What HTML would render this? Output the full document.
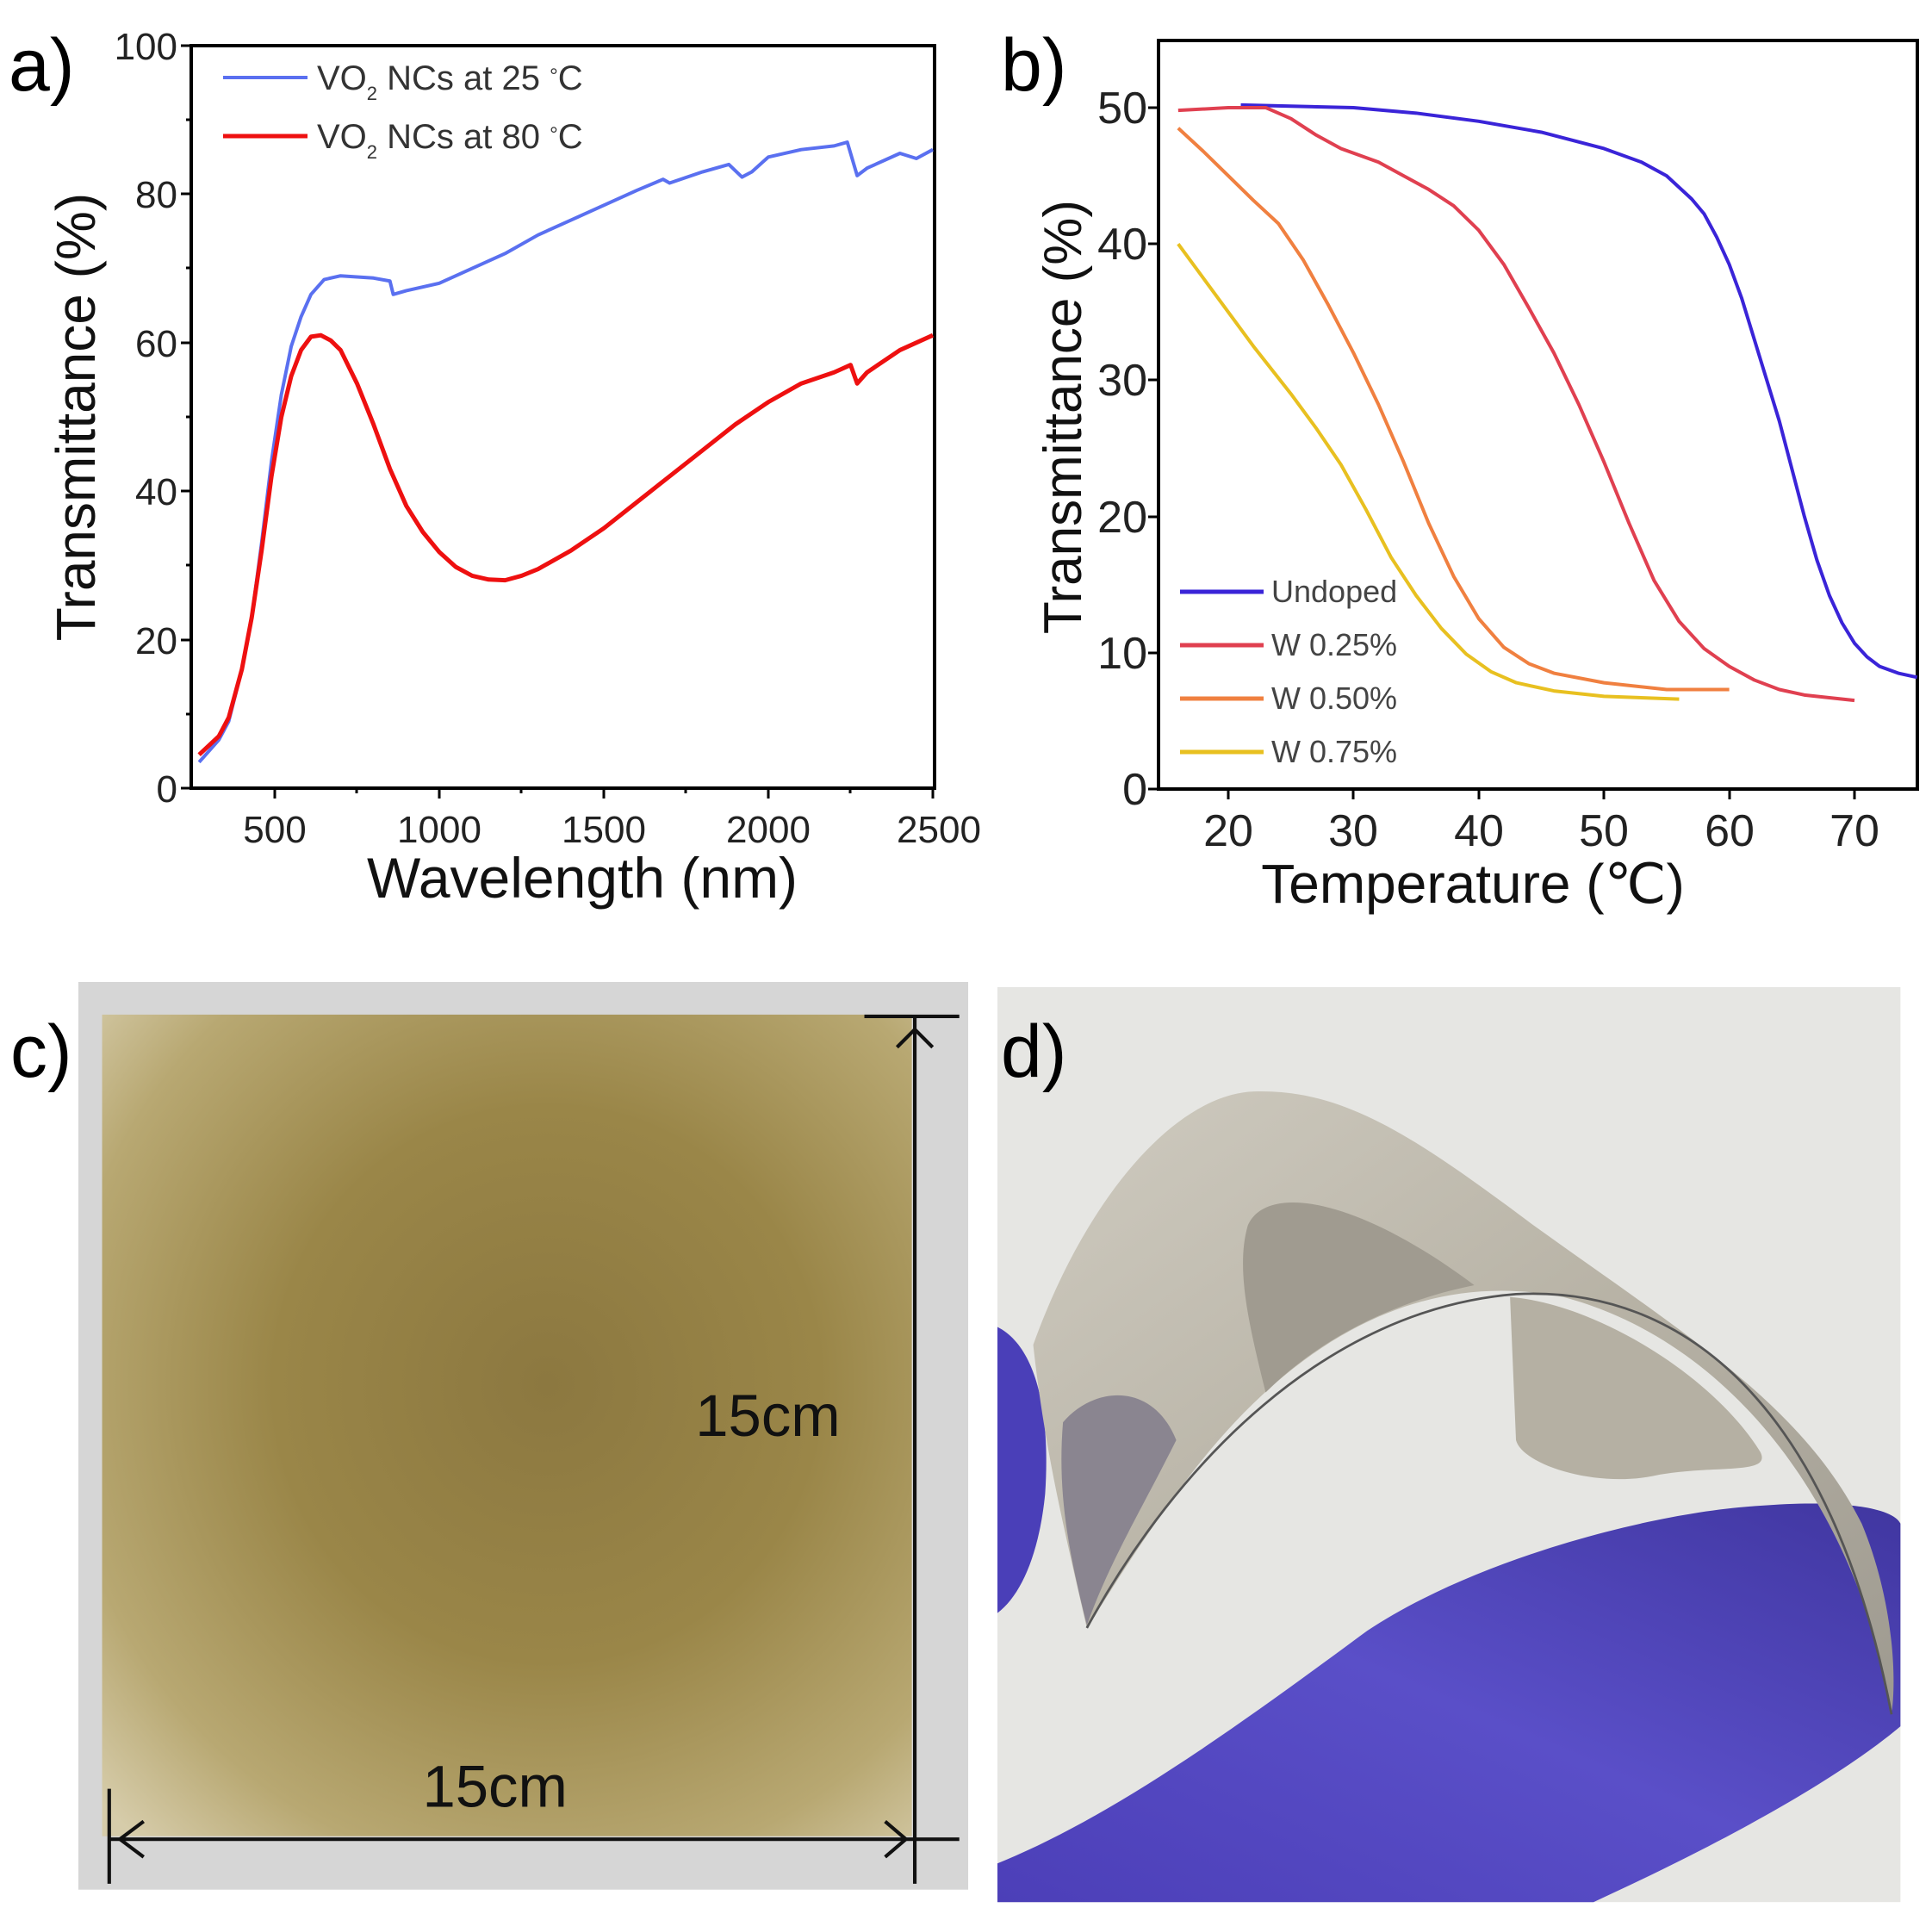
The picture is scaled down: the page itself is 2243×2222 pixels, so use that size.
<!DOCTYPE html>
<html><head><meta charset="utf-8"><style>
html,body{margin:0;padding:0;background:#fff;}
svg{display:block;font-family:"Liberation Sans",sans-serif;}
</style></head><body>
<svg width="2243" height="2222" viewBox="0 0 2243 2222" xmlns="http://www.w3.org/2000/svg">
<defs>
<radialGradient id="gold" cx="0.55" cy="0.45" r="0.75">
<stop offset="0" stop-color="#8c7840"/><stop offset="0.45" stop-color="#9a8648"/><stop offset="0.8" stop-color="#b8a872"/><stop offset="1" stop-color="#d6ccaa"/>
</radialGradient>
<linearGradient id="glove" x1="0" y1="1" x2="1" y2="0">
<stop offset="0" stop-color="#4c3fb8"/><stop offset="0.5" stop-color="#5a4fc8"/><stop offset="1" stop-color="#4036a0"/>
</linearGradient>
<linearGradient id="film" x1="0" y1="0" x2="1" y2="1">
<stop offset="0" stop-color="#cfcbc0"/><stop offset="0.5" stop-color="#b8b3a6"/><stop offset="1" stop-color="#9e9a90"/>
</linearGradient>
</defs>

<!-- Panel a -->
<text x="10" y="105" font-size="86">a)</text>
<rect x="222" y="53" width="863" height="862" stroke="#000" stroke-width="4" fill="none"/>
<g stroke="#000" stroke-width="3">
<line x1="319" y1="915" x2="319" y2="927"/><line x1="510" y1="915" x2="510" y2="927"/><line x1="701" y1="915" x2="701" y2="927"/><line x1="892" y1="915" x2="892" y2="927"/><line x1="1083" y1="915" x2="1083" y2="927"/>
<line x1="414" y1="915" x2="414" y2="921"/><line x1="605" y1="915" x2="605" y2="921"/><line x1="796" y1="915" x2="796" y2="921"/><line x1="987" y1="915" x2="987" y2="921"/>
<line x1="210" y1="915" x2="222" y2="915"/><line x1="210" y1="743" x2="222" y2="743"/><line x1="210" y1="570" x2="222" y2="570"/><line x1="210" y1="398" x2="222" y2="398"/><line x1="210" y1="225" x2="222" y2="225"/><line x1="210" y1="53" x2="222" y2="53"/>
<line x1="216" y1="829" x2="222" y2="829"/><line x1="216" y1="656" x2="222" y2="656"/><line x1="216" y1="484" x2="222" y2="484"/><line x1="216" y1="311" x2="222" y2="311"/><line x1="216" y1="139" x2="222" y2="139"/>
</g>
<g font-size="44" fill="#222" text-anchor="end">
<text x="206" y="931">0</text><text x="206" y="759">20</text><text x="206" y="586">40</text><text x="206" y="414">60</text><text x="206" y="241">80</text><text x="206" y="69">100</text>
</g>
<g font-size="44" fill="#222" text-anchor="middle">
<text x="319" y="978">500</text><text x="510" y="978">1000</text><text x="701" y="978">1500</text><text x="892" y="978">2000</text><text x="1090" y="978">2500</text>
</g>
<text x="676" y="1042" font-size="66" text-anchor="middle" fill="#111">Wavelength (nm)</text>
<text transform="translate(110,484) rotate(-90)" font-size="64" text-anchor="middle" fill="#111">Transmittance (%)</text>
<line x1="259" y1="90" x2="357" y2="90" stroke="#5a70f0" stroke-width="4"/>
<line x1="259" y1="158" x2="357" y2="158" stroke="#ee1010" stroke-width="5"/>
<g font-size="40" fill="#333">
<text x="368" y="104">VO<tspan font-size="22" dy="12">2</tspan><tspan dy="-12"> NCs at 25 </tspan><tspan font-size="24" dy="-8">°</tspan><tspan dy="8">C</tspan></text>
<text x="368" y="172">VO<tspan font-size="22" dy="12">2</tspan><tspan dy="-12"> NCs at 80 </tspan><tspan font-size="24" dy="-8">°</tspan><tspan dy="8">C</tspan></text>
</g>
<g transform="translate(319,915) scale(0.382,-8.62) translate(-500,0)" fill="none" stroke-linejoin="round">
<polyline vector-effect="non-scaling-stroke" stroke="#5a70f0" stroke-width="4" points="270,3.5 300,5 330,6.5 360,9 400,16 430,23 460,33 490,44 520,53 550,59.5 580,63.5 610,66.5 650,68.5 700,69 800,68.7 850,68.3 860,66.5 900,67 1000,68 1100,70 1200,72 1300,74.5 1400,76.5 1500,78.5 1600,80.5 1680,82 1700,81.5 1800,83 1880,84 1920,82.3 1950,83 2000,85 2100,86 2200,86.5 2240,87 2270,82.5 2300,83.5 2400,85.5 2450,84.8 2500,86"/>
<polyline vector-effect="non-scaling-stroke" stroke="#ee1010" stroke-width="5" points="270,4.5 330,7 360,9.5 400,16 430,23 460,32 490,42 520,50 550,55.5 580,59 610,60.8 640,61 670,60.3 700,59 750,54.5 800,49 850,43 900,38 950,34.5 1000,31.8 1050,29.8 1100,28.6 1150,28.1 1200,28 1250,28.6 1300,29.5 1400,32 1500,35 1600,38.5 1700,42 1800,45.5 1900,49 2000,52 2100,54.5 2200,56 2250,57 2270,54.5 2300,56 2400,59 2500,61"/>
</g>

<!-- Panel b -->
<text x="1162" y="105" font-size="86">b)</text>
<rect x="1345" y="47" width="881" height="869" stroke="#000" stroke-width="4" fill="none"/>
<g stroke="#000" stroke-width="3">
<line x1="1426" y1="916" x2="1426" y2="928"/><line x1="1571" y1="916" x2="1571" y2="928"/><line x1="1717" y1="916" x2="1717" y2="928"/><line x1="1862" y1="916" x2="1862" y2="928"/><line x1="2008" y1="916" x2="2008" y2="928"/><line x1="2153" y1="916" x2="2153" y2="928"/>
<line x1="1333" y1="916" x2="1345" y2="916"/><line x1="1333" y1="758" x2="1345" y2="758"/><line x1="1333" y1="600" x2="1345" y2="600"/><line x1="1333" y1="441" x2="1345" y2="441"/><line x1="1333" y1="283" x2="1345" y2="283"/><line x1="1333" y1="125" x2="1345" y2="125"/>
</g>
<g font-size="52" fill="#222" text-anchor="end">
<text x="1332" y="934">0</text><text x="1332" y="776">10</text><text x="1332" y="618">20</text><text x="1332" y="459">30</text><text x="1332" y="301">40</text><text x="1332" y="143">50</text>
</g>
<g font-size="52" fill="#222" text-anchor="middle">
<text x="1426" y="982">20</text><text x="1571" y="982">30</text><text x="1717" y="982">40</text><text x="1862" y="982">50</text><text x="2008" y="982">60</text><text x="2153" y="982">70</text>
</g>
<text x="1710" y="1048" font-size="64" text-anchor="middle" fill="#111">Temperature (℃)</text>
<text transform="translate(1255,484) rotate(-90)" font-size="62" text-anchor="middle" fill="#111">Transmittance (%)</text>
<g transform="translate(1426,916) scale(14.54,-15.82) translate(-20,0)" fill="none" stroke-linejoin="round">
<polyline vector-effect="non-scaling-stroke" stroke="#3a24d8" stroke-width="4" points="21,50.2 30,50 35,49.6 40,49 45,48.2 50,47 53,46 55,45 57,43.3 58,42.2 59,40.5 60,38.5 61,36 62,33 63,30 64,27 65,23.5 66,20 67,16.8 68,14.2 69,12.2 70,10.7 71,9.7 72,9 73.5,8.5 75,8.2"/>
<polyline vector-effect="non-scaling-stroke" stroke="#e04050" stroke-width="4" points="16,49.8 20,50 23,50 25,49.2 27,48 29,47 32,46 34,45 36,44 38,42.8 40,41 42,38.5 44,35.3 46,32 48,28.2 50,24 52,19.5 54,15.3 56,12.3 58,10.3 60,9 62,8 64,7.3 66,6.9 70,6.5"/>
<polyline vector-effect="non-scaling-stroke" stroke="#f08040" stroke-width="4" points="16,48.5 18,46.8 20,45 22,43.2 24,41.5 26,38.8 28,35.5 30,32 32,28.2 34,24 36,19.5 38,15.6 40,12.5 42,10.4 44,9.2 46,8.5 50,7.8 55,7.3 60,7.3"/>
<polyline vector-effect="non-scaling-stroke" stroke="#e8c020" stroke-width="4" points="16,40 18,37.5 20,35 22,32.5 25,29 27,26.5 29,23.8 31,20.5 33,17 35,14.2 37,11.8 39,9.9 41,8.6 43,7.8 46,7.2 50,6.8 56,6.6"/>
</g>
<g stroke-width="5">
<line x1="1370" y1="687" x2="1467" y2="687" stroke="#3a24d8"/>
<line x1="1370" y1="749" x2="1467" y2="749" stroke="#e04050"/>
<line x1="1370" y1="811" x2="1467" y2="811" stroke="#f08040"/>
<line x1="1370" y1="873" x2="1467" y2="873" stroke="#e8c020"/>
</g>
<g font-size="36" fill="#444">
<text x="1476" y="699">Undoped</text><text x="1476" y="761">W 0.25%</text><text x="1476" y="823">W 0.50%</text><text x="1476" y="885">W 0.75%</text>
</g>

<!-- Panel c -->
<g transform="translate(60,1140) scale(0.6887)">
<rect x="45" y="0" width="1500" height="1530" fill="#d6d6d6"/>
<rect x="85" y="55" width="1365" height="1385" fill="url(#gold)"/>
<g stroke="#111" stroke-width="6" fill="none">
<line x1="1455" y1="58" x2="1455" y2="1520"/>
<line x1="1370" y1="58" x2="1530" y2="58"/>
<polyline points="1425,110 1455,80 1485,110"/>
<line x1="97" y1="1445" x2="1530" y2="1445"/>
<line x1="97" y1="1360" x2="97" y2="1520"/>
<polyline points="155,1415 115,1445 155,1475"/>
<polyline points="1405,1415 1440,1445 1405,1475"/>
</g>
<text x="1085" y="765" font-size="100" fill="#111">15cm</text>
<text x="625" y="1390" font-size="100" fill="#111">15cm</text>
</g>
<text x="12" y="1250" font-size="86">c)</text>

<!-- Panel d -->
<g transform="translate(1158,1146) scale(0.692)">
<rect x="0" y="0" width="1515" height="1535" fill="#e6e6e3"/>
<path d="M0,1535 L0,1470 C200,1390 430,1220 620,1080 C800,960 1100,880 1280,870 C1400,860 1500,870 1515,900 L1515,1240 C1420,1320 1250,1420 1000,1535 Z" fill="url(#glove)"/>
<path d="M0,570 C60,600 90,700 80,850 C70,950 40,1020 0,1050 Z" fill="#4a3fb8"/>
<path d="M60,600 C150,350 300,180 430,175 C580,170 700,250 900,400 C1150,580 1350,700 1450,900 C1500,1020 1510,1150 1500,1220 C1450,900 1250,600 950,520 C700,470 480,600 300,850 C220,960 180,1030 150,1075 C110,900 80,780 60,600 Z" fill="url(#film)"/>
<path d="M110,730 C160,670 260,660 300,760 C240,880 190,960 150,1070 C120,950 100,850 110,730 Z" fill="#8a8590"/>
<path d="M420,400 C450,330 600,350 800,500 C700,520 560,570 450,680 C420,560 400,470 420,400 Z" fill="#a09b90"/>
<path d="M860,520 C1000,530 1200,650 1280,780 C1300,820 1200,800 1100,820 C1000,840 880,800 870,760 Z" fill="#b5b0a3"/>
<path d="M150,1075 C300,800 550,540 870,515 C1150,500 1400,700 1500,1220" fill="none" stroke="#555" stroke-width="4"/>
</g>
<text x="1162" y="1250" font-size="86">d)</text>
</svg>
</body></html>
